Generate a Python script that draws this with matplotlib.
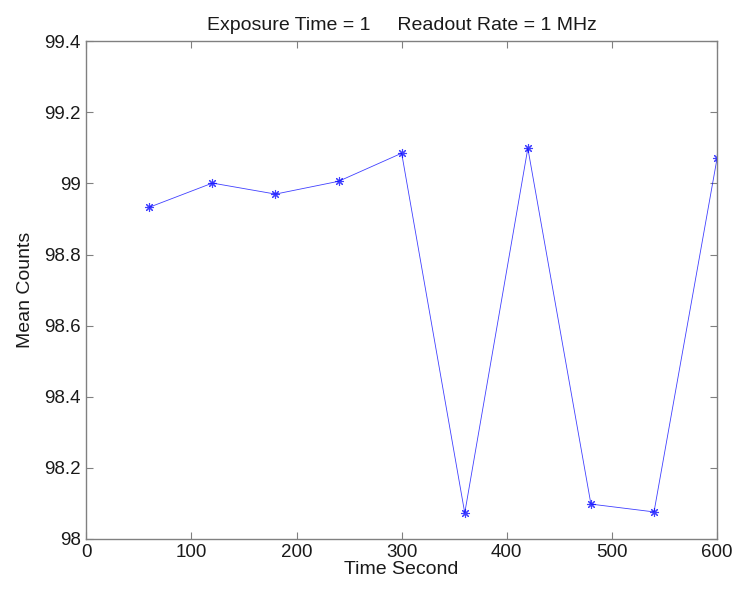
import matplotlib
matplotlib.use('Agg')
import matplotlib.pyplot as plt

# data
time_s = [60, 120, 180, 240, 300, 360, 420, 480, 540, 600]
mean_counts = [98.933, 99.001, 98.970, 99.006, 99.085, 98.073, 99.099, 98.098, 98.076, 99.071]
x_ticks = [0, 100, 200, 300, 400, 500, 600]
y_ticks = [98, 98.2, 98.4, 98.6, 98.8, 99, 99.2, 99.4]
y_tick_labels = ['98', '98.2', '98.4', '98.6', '98.8', '99', '99.2', '99.4']

plt.rcParams['font.family'] = ['Liberation Sans', 'DejaVu Sans']

fig = plt.figure(figsize=(7.37, 5.89), dpi=100)
ax = fig.add_axes([0.117, 0.085, 0.856, 0.845])

ax.plot(time_s, mean_counts, color='#0000ff', linewidth=0.6, alpha=0.75,
        marker=(8, 2, 0), markersize=6.5, markeredgewidth=0.8,
        markeredgecolor='#0000ff')

ax.set_xlim(0, 600)
ax.set_ylim(98, 99.4)
ax.set_xticks(x_ticks)
ax.set_yticks(y_ticks)
ax.set_yticklabels(y_tick_labels)

for s in ax.spines.values():
    s.set_color('#808080')
    s.set_linewidth(1.0)
ax.tick_params(direction='in', top=True, right=True, length=5,
               color='#808080', labelsize=13.5, labelcolor='#1a1a1a', pad=4)

ax.set_xlabel('Time Second', fontsize=14, labelpad=0, color='#1a1a1a')
ax.set_ylabel('Mean Counts', fontsize=14, labelpad=7, color='#1a1a1a')
ax.set_title('Exposure Time = 1     Readout Rate = 1 MHz', fontsize=14,
             pad=8, color='#1a1a1a')

fig.savefig('out.png', dpi=100)
